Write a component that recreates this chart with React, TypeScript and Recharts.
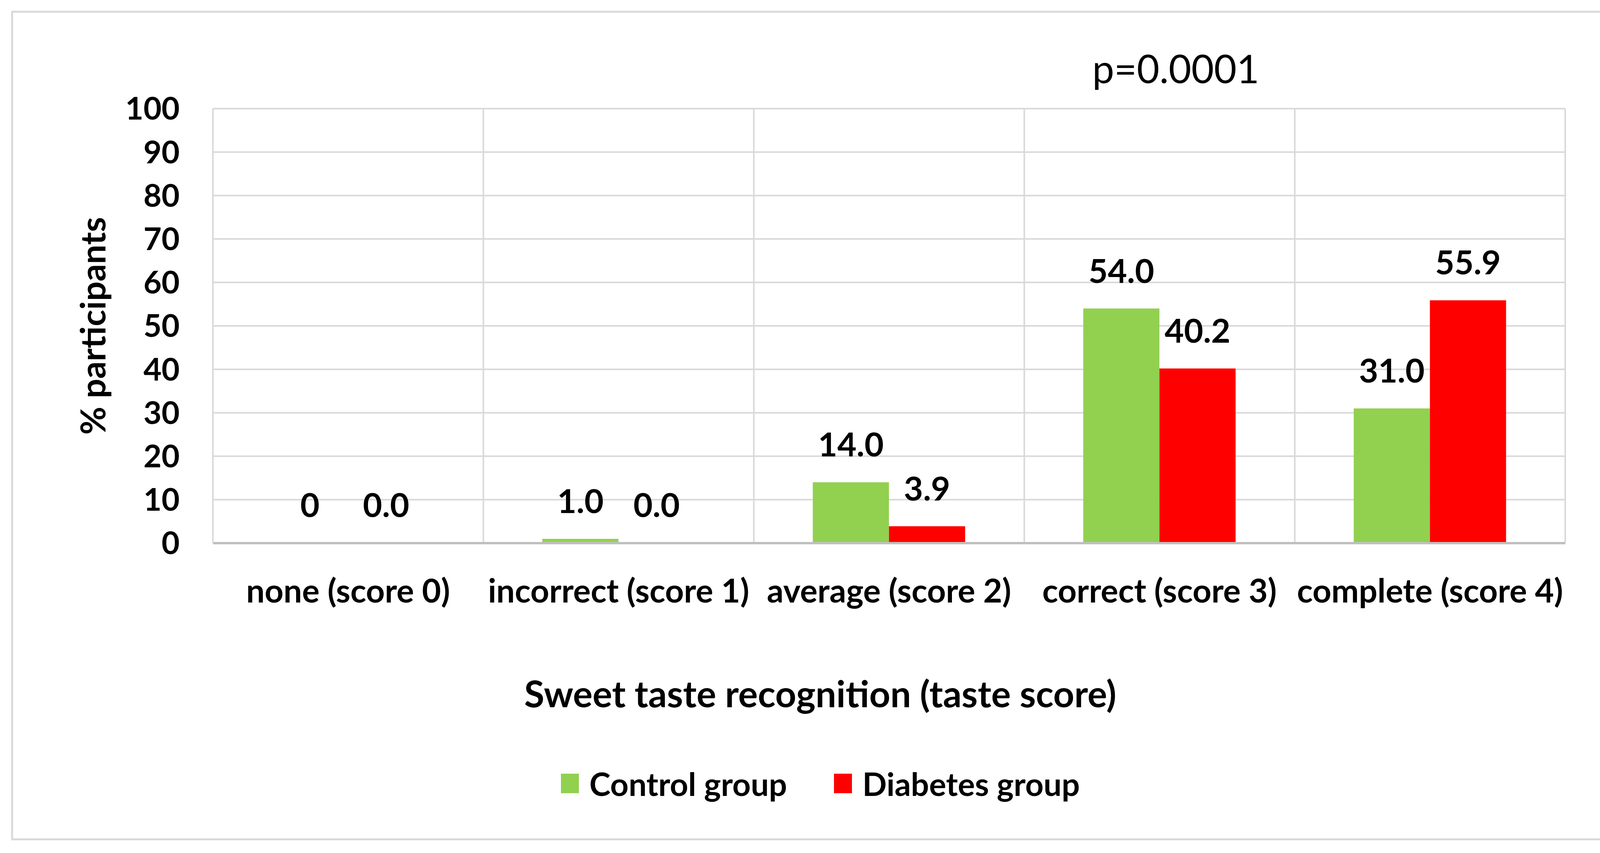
import { BarChart, Bar, XAxis, YAxis, CartesianGrid, LabelList, Legend, Customized, Rectangle } from 'recharts'

const FONT = 'Lato, "Open Sans", sans-serif'

const categories = ['none (score 0)', 'incorrect (score 1)', 'average (score 2)', 'correct (score 3)', 'complete (score 4)']
const controlValues = [0, 1.0, 14.0, 54.0, 31.0]
const diabetesValues = [0.0, 0.0, 3.9, 40.2, 55.9]
const controlLabels = ['0', '1.0', '14.0', '54.0', '31.0']
const diabetesLabels = ['0.0', '0.0', '3.9', '40.2', '55.9']
const yTicks = [0, 10, 20, 30, 40, 50, 60, 70, 80, 90, 100]
const seriesNames = ['Control group', 'Diabetes group']
const seriesColors = ['#92D050', '#FF0000']

const data = categories.map((name, i) => ({
  name,
  control: controlValues[i],
  diabetes: diabetesValues[i],
  controlLabel: controlLabels[i],
  diabetesLabel: diabetesLabels[i],
}))

// zero bars still need a rect so their labels get drawn, but the rect itself stays hidden
function BarShape(props: any) {
  if (!props.height || props.height <= 1.5) return <g />
  return <Rectangle {...props} />
}

function Annotations() {
  return (
    <g fontFamily={FONT} fill="#000">
      <rect x={31} y={30} width={4094} height={2118} fill="none" stroke="#D9D9D9" strokeWidth={5} />
      <text
        x={270}
        y={834}
        transform="rotate(-90 270 834)"
        textAnchor="middle"
        fontSize={88}
        fontWeight={700}
      >
        % participants
      </text>
      <text x={2100} y={1810} textAnchor="middle" fontSize={94} fontWeight={700}>
        Sweet taste recognition (taste score)
      </text>
      <text x={3010} y={213} textAnchor="middle" fontSize={100} fontWeight={400}>
        p=0.0001
      </text>
    </g>
  )
}

function LegendContent({ payload }: any) {
  const items = payload && payload.length ? payload : seriesNames.map((n, i) => ({ value: n, color: seriesColors[i] }))
  return (
    <div
      style={{
        display: 'flex',
        justifyContent: 'center',
        alignItems: 'center',
        height: 100,
        fontFamily: FONT,
        fontWeight: 700,
        fontSize: 82,
        color: '#000',
      }}
    >
      {items.map((entry: any, i: number) => (
        <div key={entry.value} style={{ display: 'flex', alignItems: 'center', marginLeft: i ? 120 : 0 }}>
          <span style={{ display: 'inline-block', width: 46, height: 50, background: entry.color, marginRight: 27 }} />
          <span>{entry.value}</span>
        </div>
      ))}
    </div>
  )
}

export default function App() {
  return (
    <div style={{ position: 'absolute', left: 0, top: 0, width: 4149, height: 2183, background: '#fff' }}>
      <BarChart
        width={4149}
        height={2183}
        data={data}
        margin={{ top: 278, right: 142, bottom: 643, left: 345 }}
        barCategoryGap="21.8%"
        barGap={0}
      >
        <CartesianGrid
          stroke="#D9D9D9"
          strokeWidth={4}
          verticalCoordinatesGenerator={({ offset }: any) =>
            categories.map((_, i) => offset.left + (i * offset.width) / categories.length).concat(offset.left + offset.width)
          }
        />
        <XAxis
          dataKey="name"
          interval={0}
          height={150}
          tickLine={false}
          tickSize={0}
          tickMargin={92}
          axisLine={{ stroke: '#BFBFBF', strokeWidth: 6 }}
          tick={{ fill: '#000', fontSize: 84, fontWeight: 700, fontFamily: FONT }}
        />
        <YAxis
          width={200}
          domain={[0, 100]}
          ticks={yTicks}
          interval={0}
          tickLine={false}
          tickSize={0}
          tickMargin={85}
          axisLine={{ stroke: '#D9D9D9', strokeWidth: 4 }}
          tick={{ fill: '#000', fontSize: 80, fontWeight: 700, fontFamily: FONT }}
        />
        <Legend
          verticalAlign="middle"
          align="center"
          layout="horizontal"
          content={<LegendContent />}
          wrapperStyle={{ top: 1955, left: 0, width: 4200, height: 100 }}
        />
        <Bar
          dataKey="control"
          name={seriesNames[0]}
          fill={seriesColors[0]}
          minPointSize={1}
          shape={BarShape}
          isAnimationActive={false}
        >
          <LabelList dataKey="controlLabel" position="top" offset={66} fill="#000" fontSize={85} fontWeight={700} fontFamily={FONT} />
        </Bar>
        <Bar
          dataKey="diabetes"
          name={seriesNames[1]}
          fill={seriesColors[1]}
          minPointSize={1}
          shape={BarShape}
          isAnimationActive={false}
        >
          <LabelList dataKey="diabetesLabel" position="top" offset={66} fill="#000" fontSize={85} fontWeight={700} fontFamily={FONT} />
        </Bar>
        <Customized component={Annotations} />
      </BarChart>
    </div>
  )
}
